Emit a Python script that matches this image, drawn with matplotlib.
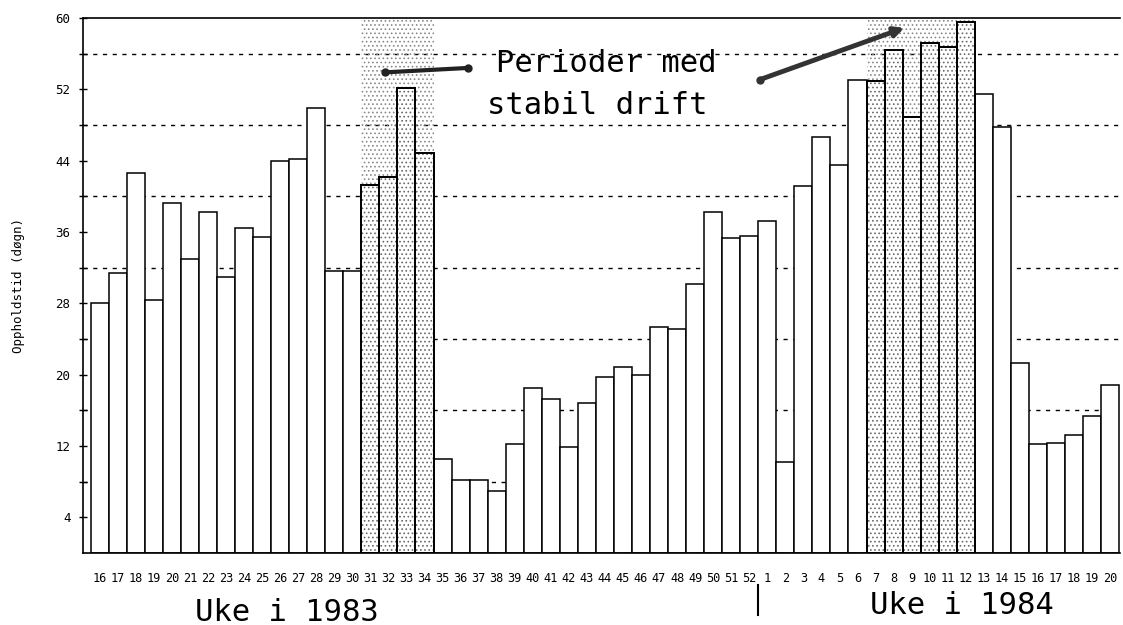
import matplotlib
matplotlib.use("Agg")
import matplotlib.pyplot as plt
import matplotlib.transforms as mtransforms
import numpy as np

# ---- data ----
weeks_1983 = list(range(16, 53))
weeks_1984 = list(range(1, 21))
values_1983 = [28.0, 31.4, 42.6, 28.4, 39.2, 33.0, 38.2, 31.0, 36.4, 35.4,
               44.0, 44.2, 49.9, 31.6, 31.6, 41.3, 42.2, 52.1, 44.9, 10.5,
               8.2, 8.2, 6.9, 12.2, 18.5, 17.3, 11.9, 16.8, 19.7, 20.9,
               20.0, 25.4, 25.1, 30.2, 38.2, 35.3, 35.6]
values_1984 = [37.2, 10.2, 41.2, 46.6, 43.5, 53.1, 52.9, 56.4, 48.9, 57.2,
               56.7, 59.5, 51.5, 47.8, 21.3, 12.2, 12.3, 13.2, 15.4, 18.8]
stable_1983 = (31, 34)   # weeks with stable operation in 1983
stable_1984 = (7, 12)    # weeks with stable operation in 1984
y_major = [4, 12, 20, 28, 36, 44, 52, 60]
y_grid = [8, 16, 24, 32, 40, 48, 56]

labels = [str(w) for w in weeks_1983] + [str(w) for w in weeks_1984]
values = values_1983 + values_1984
x = np.arange(len(values))
n83 = len(weeks_1983)

stable_idx = [i for i, w in enumerate(weeks_1983) if stable_1983[0] <= w <= stable_1983[1]] + \
             [n83 + i for i, w in enumerate(weeks_1984) if stable_1984[0] <= w <= stable_1984[1]]

plt.rcParams['hatch.linewidth'] = 0.7
mono = 'DejaVu Sans Mono'

fig = plt.figure(figsize=(11.23, 6.25), dpi=100)
fig.patch.set_facecolor('white')
ax = fig.add_axes([83 / 1123, 1 - 553 / 625, (1120 - 83) / 1123, (553 - 18) / 625])

# dashed horizontal grid lines behind bars
for g in y_grid:
    ax.axhline(g, color='black', lw=1.0, linestyle=(0, (3.0, 4.0)), zorder=1)

# stippled background for the stable periods
for lo, hi in [(stable_idx[0], stable_idx[3]), (stable_idx[4], stable_idx[-1])]:
    ax.axvspan(lo - 0.5, hi + 0.5, facecolor='none', edgecolor='#8a8a8a',
               linewidth=0, hatch='....', zorder=1.2)

# bars
ax.bar(x, values, width=1.0, facecolor='white', edgecolor='black',
       linewidth=1.1, zorder=2)
sv = [values[i] for i in stable_idx]
ax.bar(stable_idx, sv, width=1.0, facecolor='none', edgecolor='#6a6a6a',
       linewidth=0, hatch='....', zorder=2.5)
ax.bar(stable_idx, sv, width=1.0, facecolor='none', edgecolor='black',
       linewidth=1.4, zorder=3)

ax.set_xlim(-0.93, len(values) - 0.45)
ax.set_ylim(0, 60)

ax.set_yticks(y_major)
ax.set_yticklabels([str(v) for v in y_major], fontfamily=mono, fontsize=9)
ax.set_yticks(y_grid, minor=True)
ax.tick_params(axis='y', which='both', direction='inout', length=6, width=1, pad=6)
ax.set_xticks(x)
ax.set_xticklabels(labels, fontfamily=mono, fontsize=8.6)
ax.tick_params(axis='x', length=0, pad=14)

for s in ['left', 'bottom', 'top']:
    ax.spines[s].set_linewidth(1.2)
ax.spines['right'].set_visible(False)

ax.set_ylabel('Oppholdstid (døgn)', fontfamily=mono, fontsize=9, labelpad=22)

# annotation text and pointers
ax.text(28.1, 53.9, 'Perioder med', ha='center', va='baseline',
        fontfamily=mono, fontsize=22, zorder=5)
ax.text(27.6, 49.2, 'stabil drift', ha='center', va='baseline',
        fontfamily=mono, fontsize=22, zorder=5)
ax.plot([15.8, 20.4], [53.9, 54.4], color='#222222', lw=3, marker='o',
        markersize=5, zorder=5)
ax.annotate('', xy=(44.6, 58.9), xytext=(36.6, 53.1),
            arrowprops=dict(arrowstyle='-|>', lw=3.5, color='#333333',
                            mutation_scale=14, shrinkA=0, shrinkB=0),
            zorder=5)
ax.plot([36.6], [53.1], marker='o', color='#333333', markersize=5, zorder=5)

# year divider mark
trans = mtransforms.blended_transform_factory(ax.transData, ax.transAxes)
ax.plot([n83 - 0.5, n83 - 0.5], [-0.06, -0.115], color='black', lw=1.5,
        transform=trans, clip_on=False)

fig.text(287 / 1123, 1 - 621 / 625, 'Uke i 1983', ha='center', va='baseline',
         fontfamily=mono, fontsize=22)
fig.text(962 / 1123, 1 - 614 / 625, 'Uke i 1984', ha='center', va='baseline',
         fontfamily=mono, fontsize=22)

fig.savefig('out.png', dpi=100, facecolor='white')
